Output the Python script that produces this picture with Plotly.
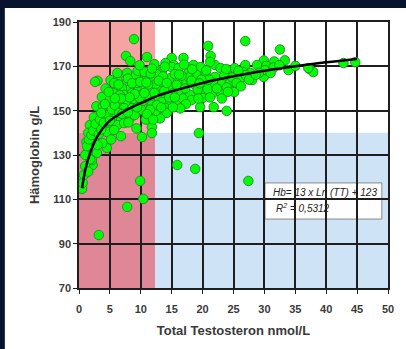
import plotly.graph_objects as go

# ---------------- data ----------------
tt = [
    0.5, 0.6, 3.2, 7.8, 10.4, 9.9, 15.9, 18.8, 19.4, 27.4, 3.7, 8.9, 7.6, 8.3, 11.0, 20.9, 26.9,
    21.8, 23.9, 25.1, 37.3, 37.9, 42.8, 44.7, 32.5, 33.3, 31.6, 29.9, 30.3, 29.9, 28.0, 26.9, 33.9, 37.1,
    5.1, 6.2, 7.6, 7.8, 8.9, 10.0, 11.0, 12.1, 13.1,
    6.0, 7.0, 8.4, 9.7, 10.8, 11.8, 12.9, 7.3, 8.6, 10.0, 11.3, 12.4, 6.2, 7.6, 8.9, 10.2, 11.6,
    4.6, 6.1, 7.3, 8.6, 10.2, 11.8, 12.9, 4.1, 5.4, 6.8, 8.4, 2.1, 3.3, 4.9, 6.2, 4.5, 11.8, 11.8,
    1.75, 4.6, 4.6, 2.5, 2.9, 2.2, 2.1, 4.5, 3.8, 3.0, 1.4, 5.7, 7.3, 10.2,
    6.2, 7.8, 9.2, 5.7, 15.0, 15.3,
    21.3, 22.0, 21.2, 16.9, 14.0, 18.5, 19.7, 15.0, 16.1, 22.9, 24.4, 25.2, 13.4, 17.7, 19.0, 20.5,
    22.0, 14.8, 16.1, 17.4, 13.2, 14.5, 15.8, 18.8, 20.4, 21.7, 23.2, 24.4, 14.0, 15.3, 16.6, 18.0,
    20.0, 21.7, 22.9, 13.4, 14.8, 16.1, 18.2, 20.0, 19.6, 14.0,
    28.8, 25.2, 30.1, 26.1, 27.7, 29.1, 26.0,
    1.2, 1.5, 2.4, 2.8, 3.9, 5.0, 5.5, 4.3, 3.0, 2.6, 6.6, 9.5, 9.5, 10.6, 12.4, 12.6, 13.6, 12.2,
    14.2, 12.8, 13.1, 12.4, 16.8, 17.2, 19.2, 21.0, 23.5, 24.8, 26.5, 27.0, 23.9, 25.5, 19.8, 17.8,
    15.5, 9.0, 8.0, 10.8, 9.3, 6.8, 5.2, 1.8, 1.0, 0.8, 1.5,
    1.0, 1.3, 1.6, 2.0, 2.3, 2.7, 3.4, 3.6, 4.2, 3.2, 3.6, 4.0, 5.3, 5.8, 5.0, 6.5, 7.0, 7.9,
    9.4, 9.8, 9.0, 10.6, 11.2, 12.2, 12.6, 11.5, 11.0, 12.0, 8.2, 6.8, 5.8, 4.8, 6.4, 7.9, 8.6,
    9.9, 10.9, 11.6, 9.8, 11.8, 12.9, 13.8, 14.6, 15.5, 17.3, 16.4, 15.2, 13.3, 14.2, 16.6, 18.2,
    19.5, 20.8, 22.3, 19.3, 21.2, 23.1, 24.1, 26.2, 27.5, 28.6, 25.8, 23.8, 20.6, 18.3, 17.0, 16.2,
    13.9, 31.5, 32.4, 35.0, 31.0,
]
hb = [
    114.7, 117.4, 93.9, 106.6, 110.2, 118.3, 125.5, 123.7, 139.9, 118.3, 156.2, 182.3, 174.7, 172.4, 174.2, 179.2, 181.4,
    151.6, 149.9, 158.4, 168.8, 167.4, 171.5, 171.9, 177.6, 172.7, 172.2, 172.6, 170.2, 165.2, 163.8, 170.6, 168.3, 169.2,
    163.8, 163.8, 166.5, 162.9, 164.7, 165.2, 164.7, 164.7, 168.3,
    160.7, 160.2, 160.2, 160.7, 160.2, 159.3, 160.2, 157.1, 158.0, 157.1, 156.2, 156.2, 153.9, 153.9, 154.8, 153.9, 153.5,
    150.3, 150.3, 151.2, 151.2, 150.3, 152.6, 155.7, 147.1, 147.1, 146.7, 147.1, 143.5, 143.5, 143.5, 143.5, 140.4, 142.6, 139.9,
    143.5, 144.9, 148.0, 138.1, 130.9, 125.5, 127.7, 133.2, 135.4, 134.5, 131.4, 141.3, 144.4, 138.1,
    167.0, 167.0, 166.1, 162.5, 173.8, 170.6,
    174.7, 170.6, 172.0, 173.8, 171.5, 170.6, 169.7, 169.7, 169.2, 169.2, 167.4, 166.1, 167.4, 167.0, 166.1, 166.1,
    165.2, 164.7, 163.8, 162.9, 162.9, 160.7, 161.6, 161.6, 161.6, 162.5, 162.9, 162.5, 157.1, 158.0, 158.0, 157.1,
    158.0, 158.0, 158.4, 153.9, 153.9, 153.5, 154.8, 155.7, 151.6, 151.2,
    170.6, 169.2, 168.3, 165.2, 167.0, 167.0, 163.8,
    136.0, 140.0, 147.0, 152.0, 152.0, 155.0, 158.0, 160.0, 163.5, 163.0, 157.0, 162.5, 168.0, 167.5, 162.0, 166.5, 165.5, 171.0,
    149.0, 150.5, 146.5, 149.8, 155.5, 160.0, 159.5, 164.0, 166.0, 165.0, 167.5, 166.0, 160.5, 162.5, 164.0, 165.0,
    166.5, 148.0, 144.7, 146.0, 142.0, 138.5, 137.0, 128.0, 125.0, 121.0, 122.5,
    130.0, 134.0, 137.0, 139.0, 141.0, 144.0, 146.0, 149.0, 153.0, 139.5, 141.5, 144.5, 150.5, 152.5, 145.5, 149.0, 148.5, 149.2,
    151.5, 155.8, 157.5, 158.0, 161.8, 158.0, 152.5, 150.5, 148.5, 146.0, 156.0, 155.5, 155.6, 158.5, 161.8, 164.5, 162.4,
    163.0, 162.7, 166.8, 170.5, 169.0, 163.5, 159.0, 156.0, 156.0, 153.0, 151.0, 151.5, 151.5, 162.5, 165.8, 163.5,
    162.3, 159.8, 160.0, 155.5, 156.0, 155.5, 158.5, 161.0, 164.0, 166.2, 168.0, 168.8, 168.2, 168.7, 170.8, 166.3,
    169.8, 169.5, 170.5, 170.2, 167.0,
]

# trend line
trend_x = [0.5, 1, 1.75, 3, 4.6, 6, 7.8, 10.5, 13, 16, 20, 25, 30, 35, 40, 45]
trend_y = [115, 123, 130.5, 138.5, 144.5, 147.5, 150.5, 154, 157, 159.5, 162.5, 165.5, 168, 170, 171.8, 173.3]

x_ticks = [0, 5, 10, 15, 20, 25, 30, 35, 40, 45, 50]
y_ticks = [70, 90, 110, 130, 150, 170, 190]

low_t_limit = 12.3
low_hb_limit = 140

FONT = "Liberation Sans, Arial, sans-serif"
GRID = "#1e1e1e"

fig = go.Figure()

fig.add_trace(go.Scatter(
    x=tt, y=hb, mode="markers", cliponaxis=False,
    marker=dict(size=9.5, color="#00ff00", line=dict(color="#2f8f2f", width=1)),
    showlegend=False,
))
fig.add_trace(go.Scatter(
    x=trend_x, y=trend_y, mode="lines", line=dict(color="black", width=2.5, shape="spline"),
    showlegend=False,
))

shapes = [
    dict(type="rect", xref="paper", yref="paper", x0=-0.24, x1=1.1, y0=-0.3, y1=1.0526,
         fillcolor="white", line=dict(width=0), layer="below"),
    dict(type="rect", xref="x", yref="y", x0=0, x1=low_t_limit, y0=low_hb_limit, y1=190,
         fillcolor="#f5a3a3", line=dict(width=0), layer="below"),
    dict(type="rect", xref="x", yref="y", x0=0, x1=low_t_limit, y0=70, y1=low_hb_limit,
         fillcolor="#df8797", line=dict(width=0), layer="below"),
    dict(type="rect", xref="x", yref="y", x0=low_t_limit, x1=50, y0=70, y1=low_hb_limit,
         fillcolor="#cfe3f7", line=dict(width=0), layer="below"),
    dict(type="rect", xref="x", yref="y", x0=30.1, x1=49.0, y0=101.1, y1=117.4,
         fillcolor="white", line=dict(color="#8a8a8a", width=1), layer="below"),
]

annotations = [
    dict(x=31.0, y=113.0, xref="x", yref="y", xanchor="left", yanchor="middle", showarrow=False,
         text="<i>Hb= 13 x Ln (TT) + 123</i>", font=dict(family=FONT, size=10, color="#222")),
    dict(x=31.6, y=106.2, xref="x", yref="y", xanchor="left", yanchor="middle", showarrow=False,
         text="<i>R<sup>2</sup> = 0,5312</i>", font=dict(family=FONT, size=10, color="#222")),
]

fig.update_layout(
    width=406, height=349,
    margin=dict(l=79, r=13, t=22, b=61),
    paper_bgcolor="#08142e",
    plot_bgcolor="white",
    shapes=shapes,
    annotations=annotations,
    xaxis=dict(
        range=[0, 50], tickvals=x_ticks, ticktext=[str(v) for v in x_ticks],
        showgrid=True, gridcolor=GRID, gridwidth=1.5,
        showline=True, linecolor=GRID, linewidth=1.5, mirror=True,
        ticks="outside", ticklen=4, tickcolor=GRID, ticklabelstandoff=6,
        zeroline=False,
        tickfont=dict(family=FONT, size=11, color="#3a3a3a", weight="bold"),
        title=dict(text="Total Testosteron nmol/L", standoff=12,
                   font=dict(family=FONT, size=13, color="#3a3a3a", weight="bold")),
    ),
    yaxis=dict(
        range=[70, 190], tickvals=y_ticks, ticktext=[str(v) for v in y_ticks],
        showgrid=True, gridcolor=GRID, gridwidth=1.5,
        showline=True, linecolor=GRID, linewidth=1.5, mirror=True,
        ticks="outside", ticklen=4, tickcolor=GRID,
        zeroline=False,
        tickfont=dict(family=FONT, size=11, color="#3a3a3a", weight="bold"),
        title=dict(text="Hämoglobin g/L", standoff=10,
                   font=dict(family=FONT, size=13, color="#3a3a3a", weight="bold")),
    ),
)

fig.write_html("out.html")
